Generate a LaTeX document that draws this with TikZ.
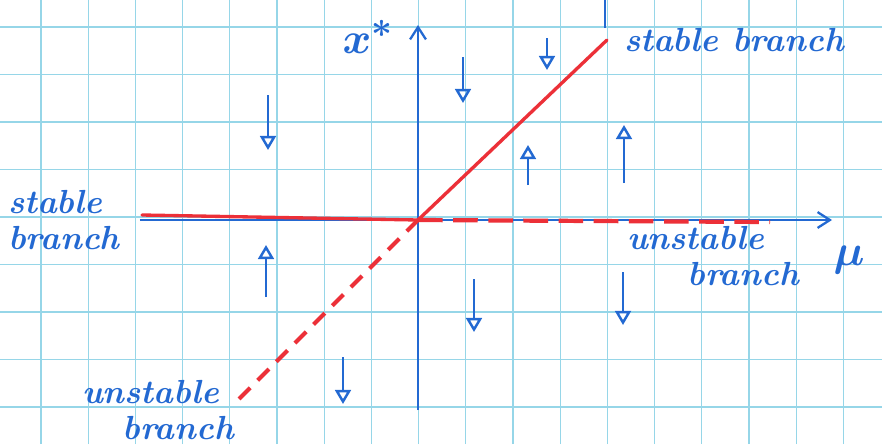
\documentclass[tikz,border=0pt]{standalone}
\usepackage{amsmath}
\usepackage{tikz}
\usetikzlibrary{arrows.meta, positioning, calc}

\definecolor{penblue}{RGB}{35,105,210}
\definecolor{penred}{RGB}{236,48,56}
\definecolor{gridcyan}{RGB}{150,214,232}

\begin{document}
\begin{tikzpicture}[
  gridline/.style={gridcyan, line width=0.7pt},
  axis/.style={penblue, line width=1.3pt, -{Straight Barb[length=7pt, width=9pt, line width=1.3pt]}},
  flow/.style={penblue, line width=1.4pt, -{Triangle[open, length=8pt, width=9pt, line width=1.4pt]}},
  stablebr/.style={penred, line width=1.9pt, line cap=round},
  unstablebr/.style={penred, line width=2.4pt, dash pattern=on 9pt off 6pt},
  hand/.style={penblue, font=\fontsize{19}{21}\selectfont\bfseries\itshape, inner sep=1pt},
  handmath/.style={penblue, font=\fontsize{28}{30}\selectfont\boldmath, inner sep=1pt}
]
\useasboundingbox[fill=white] (-8.36,-4.48) rectangle (9.28,4.40);

% squared paper
\foreach \i in {0,...,17}
  \draw[gridline] ({-7.54+0.944*\i},-4.48) -- ({-7.54+0.944*\i},4.40);
\foreach \j in {0,...,8}
  \draw[gridline] (-8.36,{3.86-0.95*\j}) -- (9.28,{3.86-0.95*\j});

% axes
\coordinate (origin) at (0,0);
\draw[axis] (0,-3.8) -- (0,3.9) coordinate (xtop);
\draw[axis] (-5.56,0) -- (8.28,0) coordinate (muend);
\draw[penblue, line width=1.3pt] (3.74,4.40) -- (3.74,3.84);

% branches
\draw[stablebr] (-5.52,0.1) -- (origin);
\draw[stablebr] (origin) -- (3.78,3.6) coordinate (stabletop);
\draw[unstablebr] (origin) -- (-3.7,-3.7) coordinate (unstablebot);
\draw[unstablebr, dash pattern=on 14pt off 6pt] (origin) -- (7.04,-0.04);

% flow arrows
\draw[flow] (-3.0,2.5) -- (-3.0,1.4);
\draw[flow] (0.9,3.26) -- (0.9,2.34);
\draw[flow] (2.58,3.64) -- (2.58,3.0);
\draw[flow] (2.2,0.7) -- (2.2,1.5);
\draw[flow] (4.12,0.74) -- (4.12,1.9);
\draw[flow] (-3.04,-1.54) -- (-3.04,-0.5);
\draw[flow] (-1.5,-2.74) -- (-1.5,-3.68);
\draw[flow] (1.12,-1.18) -- (1.12,-2.24);
\draw[flow] (4.1,-1.04) -- (4.1,-2.1);

% labels
\node[handmath] (xstar) at (-1.0,3.66) {$x^{*}$};
\node[hand, right=0.3 of stabletop] (stableup) {stable branch};
\node[hand, align=left, anchor=west] (stableleft) at (-8.24,0) {stable\\branch};
\node[hand, align=left] (unstableright) at (5.9,-0.72) {unstable\\\hspace*{1.2cm}branch};
\node[handmath] (mu) at (8.62,-0.8) {$\mu$};
\node[hand, align=left] (unstableleft) at (-5.2,-3.8) {unstable\\\hspace*{0.8cm}branch};
\end{tikzpicture}
\end{document}
